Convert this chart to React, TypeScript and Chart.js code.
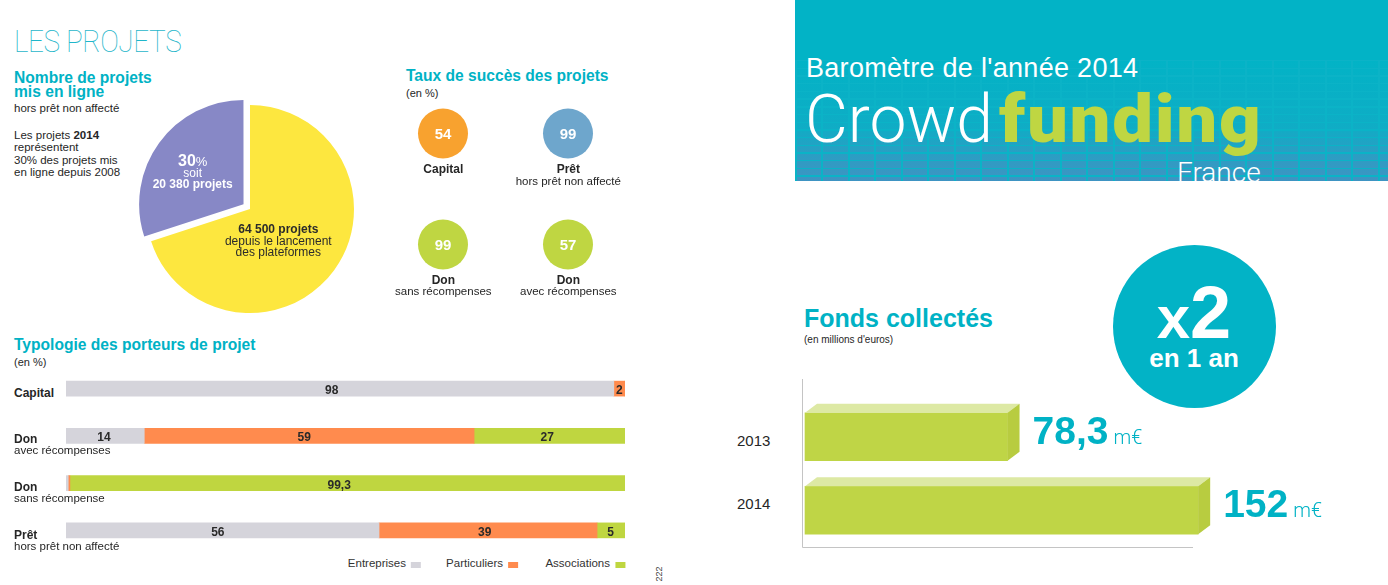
import React, { useEffect, useRef } from "react";
import { Chart, registerables } from "chart.js";
Chart.register(...registerables);

// ---------------- DATA ----------------
const pieLabels = ["Depuis le lancement des plateformes", "Projets 2014"];
const pieValues = [70, 30];

const successTitles = ["Capital", "Prêt", "Don", "Don"];
const successSubs = ["", "hors prêt non affecté", "sans récompenses", "avec récompenses"];
const successRates = [54, 99, 99, 57];

const typoTitles = ["Capital", "Don", "Don", "Prêt"];
const typoSubs = ["", "avec récompenses", "sans récompense", "hors prêt non affecté"];
const typoSeries = ["Entreprises", "Particuliers", "Associations"];
const entreprises = [98, 14, 0.4, 56];
const particuliers = [2, 59, 0.3, 39];
const associations = [0, 27, 99.3, 5];

const fondsYears = ["2013", "2014"];
const fondsValues = [78.3, 152];

// ---------------- STYLE ----------------
const FONT = '"Liberation Sans", Arial, Helvetica, sans-serif';
const ROBOTO = 'Roboto, "Liberation Sans", sans-serif';
const CYAN = "#00b2c5";
const DARK = "#262626";
const pieColors = ["#fde73f", "#8788c6"];
const successColors = ["#f8a22f", "#6ea6cc", "#bfd642", "#bfd642"];
const typoColors = ["#d5d4db", "#ff8b4e", "#bfd640"];
const fondsFront = "#bfd546";
const fondsTop = "#dde9a4";
const fondsSide = "#b8cc40";
const TITLE = 15.6;

const fmt = (v: number) => String(v).replace(".", ",");

function Txt(props: any) {
  const { x, y, size, weight = 400, color = DARK, align = "left", family = FONT, children, style } = props;
  const transform = align === "center" ? "translateX(-50%)" : align === "right" ? "translateX(-100%)" : undefined;
  return (
    <div
      style={{
        position: "absolute",
        left: x,
        top: y - 0.85 * size,
        fontSize: size,
        lineHeight: `${size}px`,
        fontWeight: weight,
        color,
        fontFamily: family,
        whiteSpace: "nowrap",
        transform,
        ...style,
      }}
    >
      {children}
    </div>
  );
}

function ChartCanvas(props: any) {
  const { left, top, width, height, make } = props;
  const ref = useRef<HTMLCanvasElement>(null);
  useEffect(() => {
    const chart = new Chart(ref.current as HTMLCanvasElement, make());
    return () => chart.destroy();
  }, []);
  return (
    <canvas
      ref={ref}
      width={width}
      height={height}
      style={{ position: "absolute", left, top, width, height }}
    />
  );
}

const noPlugins = { legend: { display: false }, tooltip: { enabled: false } };

function makePie(): any {
  return {
    type: "pie",
    data: {
      labels: pieLabels,
      datasets: [{ data: pieValues, backgroundColor: pieColors, borderWidth: 0, offset: [0, 32] }],
    },
    options: { responsive: false, animation: false, events: [], radius: 104, plugins: noPlugins },
  };
}

function makeSuccess(): any {
  const labelPlugin = {
    id: "succLabels",
    afterDatasetsDraw(chart: any) {
      const ctx = chart.ctx;
      const meta = chart.getDatasetMeta(0);
      ctx.save();
      ctx.font = `bold 15px ${FONT}`;
      ctx.fillStyle = "#ffffff";
      ctx.textAlign = "center";
      ctx.textBaseline = "alphabetic";
      meta.data.forEach((pt: any, i: number) => {
        ctx.fillText(String(successRates[i]), pt.x, pt.y + 5.4);
      });
      ctx.restore();
    },
  };
  return {
    type: "scatter",
    data: {
      datasets: [
        {
          data: successRates.map((_, i) => ({ x: i % 2, y: 1 - Math.floor(i / 2) })),
          backgroundColor: successColors,
          pointRadius: 25,
          pointHoverRadius: 25,
          borderWidth: 0,
        },
      ],
    },
    options: {
      responsive: false,
      animation: false,
      events: [],
      layout: { padding: 0, autoPadding: false },
      scales: {
        x: { type: "linear", display: false, min: -0.4, max: 1.6 },
        y: { type: "linear", display: false, min: -0.5, max: 1.5 },
      },
      plugins: noPlugins,
    },
    plugins: [labelPlugin],
  };
}

function makeTypo(): any {
  const series = [entreprises, particuliers, associations];
  const segLabels = {
    id: "segLabels",
    afterDatasetsDraw(chart: any) {
      const ctx = chart.ctx;
      ctx.save();
      ctx.font = `bold 12px ${FONT}`;
      ctx.fillStyle = "#2a2a2a";
      ctx.textAlign = "center";
      ctx.textBaseline = "alphabetic";
      chart.data.datasets.forEach((ds: any, d: number) => {
        const meta = chart.getDatasetMeta(d);
        meta.data.forEach((el: any, i: number) => {
          const v = ds.data[i];
          if (v < 1.5) return;
          const { x, y, base } = el.getProps(["x", "y", "base"], true);
          ctx.fillText(fmt(v), base + (x - base) * 0.485, y + 5.5);
        });
      });
      ctx.restore();
    },
  };
  return {
    type: "bar",
    data: {
      labels: typoTitles.map((t, i) => (t + " " + typoSubs[i]).trim()),
      datasets: series.map((d, i) => ({
        label: typoSeries[i],
        data: d,
        backgroundColor: typoColors[i],
        borderWidth: 0,
        barThickness: 15,
      })),
    },
    options: {
      indexAxis: "y",
      responsive: false,
      animation: false,
      events: [],
      layout: { padding: 0 },
      scales: {
        x: { stacked: true, display: false, min: 0, max: 100 },
        y: { stacked: true, display: false },
      },
      plugins: noPlugins,
    },
    plugins: [segLabels],
  };
}

function makeFonds(): any {
  const dx = 12;
  const dy = 9;
  const frame = {
    id: "frame",
    beforeDatasetsDraw(chart: any) {
      const { ctx, chartArea } = chart;
      ctx.save();
      ctx.strokeStyle = "#c4c4c4";
      ctx.lineWidth = 1;
      const lx = Math.round(chartArea.left - 3) + 0.5;
      const by = Math.round(chartArea.bottom) + 0.5;
      ctx.beginPath();
      ctx.moveTo(lx, 1);
      ctx.lineTo(lx, by);
      ctx.lineTo(chartArea.right, by);
      ctx.stroke();
      ctx.restore();
    },
    afterDatasetsDraw(chart: any) {
      const ctx = chart.ctx;
      const meta = chart.getDatasetMeta(0);
      const ds = chart.data.datasets[0];
      ctx.save();
      meta.data.forEach((el: any, i: number) => {
        const { x, y, base, height } = el.getProps(["x", "y", "base", "height"], true);
        const L = base;
        const R = x;
        const T = y - height / 2;
        const B = y + height / 2;
        ctx.fillStyle = fondsTop;
        ctx.beginPath();
        ctx.moveTo(L, T);
        ctx.lineTo(L + dx, T - dy);
        ctx.lineTo(R + dx, T - dy);
        ctx.lineTo(R, T);
        ctx.closePath();
        ctx.fill();
        ctx.fillStyle = fondsSide;
        ctx.beginPath();
        ctx.moveTo(R, T);
        ctx.lineTo(R + dx, T - dy);
        ctx.lineTo(R + dx, B - dy);
        ctx.lineTo(R, B);
        ctx.closePath();
        ctx.fill();
        // value label
        const txt = fmt(ds.data[i]);
        ctx.fillStyle = CYAN;
        ctx.textBaseline = "alphabetic";
        ctx.textAlign = "left";
        const tx = R + 25;
        const ty = y + 6.8;
        ctx.font = `bold 39px ${FONT}`;
        const w = ctx.measureText(txt).width;
        ctx.fillText(txt, tx, ty);
        ctx.font = `300 20px ${ROBOTO}`;
        ctx.fillText("m€", tx + w + 5, ty);
      });
      ctx.restore();
    },
  };
  return {
    type: "bar",
    data: {
      labels: fondsYears,
      datasets: [
        { data: fondsValues, backgroundColor: fondsFront, borderWidth: 0, barThickness: 48, clip: false },
      ],
    },
    options: {
      indexAxis: "y",
      responsive: false,
      animation: false,
      events: [],
      layout: { padding: { left: 12, right: 160, top: 22, bottom: 2 } },
      scales: {
        x: { display: false, min: 0, max: 150 },
        y: { display: false },
      },
      plugins: noPlugins,
    },
    plugins: [frame],
  };
}

const legendBoxRight = [421, 518, 625];
const typoTitleBase = [397, 443.3, 491, 539.3];
const typoSubBase = [0, 455, 502.7, 550.7];
const successCx = [443.3, 568.3, 443.3, 568.3];
const successTitleBase = [173.3, 173.3, 284, 284];
const successSubBase = [186, 186, 295.5, 295.5];
const fondsLabelBase = [446, 508.7];

export default function App() {
  const gridBg =
    "repeating-linear-gradient(90deg, #0bb3c7 0px, #0bb3c7 2px, transparent 2px, transparent 26.5px)," +
    "repeating-linear-gradient(180deg, #0bb3c7 0px, #0bb3c7 1.4px, transparent 1.4px, transparent 7.7px)," +
    "linear-gradient(180deg, rgba(66,146,194,0) 0%, rgba(66,146,194,0.2) 55%, rgba(66,146,194,0.6) 75%, rgba(66,146,194,0.95) 100%)";
  return (
    <div
      style={{
        position: "absolute",
        left: 0,
        top: 0,
        width: 1388,
        height: 585,
        overflow: "hidden",
        background: "#ffffff",
        fontFamily: FONT,
      }}
    >
      {/* ---------- LEFT: LES PROJETS ---------- */}
      <Txt
        x={14}
        y={51.7}
        size={32}
        weight={100}
        color="#1fb6ca"
        family={ROBOTO}
        style={{ letterSpacing: -0.5, transform: "scaleX(0.875)", transformOrigin: "left" }}
      >
        LES PROJETS
      </Txt>
      <Txt x={14} y={83.3} size={TITLE} weight={700} color={CYAN}>Nombre de projets</Txt>
      <Txt x={14} y={97.3} size={TITLE} weight={700} color={CYAN}>mis en ligne</Txt>
      <Txt x={14} y={112.7} size={11.5}>hors prêt non affecté</Txt>
      <Txt x={14} y={140} size={11.5}>Les projets <b>2014</b></Txt>
      <Txt x={14} y={152.2} size={11.5}>représentent</Txt>
      <Txt x={14} y={164.4} size={11.5}>30% des projets mis</Txt>
      <Txt x={14} y={176.6} size={11.5}>en ligne depuis 2008</Txt>

      <ChartCanvas left={130} top={89} width={240} height={240} make={makePie} />
      <Txt x={192.7} y={166.7} size={16} weight={700} color="#fff" align="center">
        30<span style={{ fontWeight: 400, fontSize: 13 }}>%</span>
      </Txt>
      <Txt x={192.7} y={177.5} size={12} color="#fff" align="center">soit</Txt>
      <Txt x={192.7} y={188.5} size={12} weight={700} color="#fff" align="center">20 380 projets</Txt>
      <Txt x={278.3} y={233.5} size={12} weight={700} color="#2b2b2b" align="center">64 500 projets</Txt>
      <Txt x={278.3} y={245} size={12} color="#2b2b2b" align="center">depuis le lancement</Txt>
      <Txt x={278.3} y={256.5} size={12} color="#2b2b2b" align="center">des plateformes</Txt>

      {/* ---------- Taux de succès ---------- */}
      <Txt x={406} y={81.7} size={TITLE} weight={700} color={CYAN}>Taux de succès des projets</Txt>
      <Txt x={406} y={97.3} size={11}>(en %)</Txt>
      <ChartCanvas left={393} top={78} width={250} height={222} make={makeSuccess} />
      {successTitles.map((t, i) => (
        <Txt key={"st" + i} x={successCx[i]} y={successTitleBase[i]} size={12} weight={700} align="center">
          {t}
        </Txt>
      ))}
      {successSubs.map((t, i) =>
        t ? (
          <Txt key={"ss" + i} x={successCx[i]} y={successSubBase[i]} size={11.5} align="center">
            {t}
          </Txt>
        ) : null
      )}

      {/* ---------- Typologie ---------- */}
      <Txt x={14} y={350.7} size={TITLE} weight={700} color={CYAN}>Typologie des porteurs de projet</Txt>
      <Txt x={14} y={366} size={11}>(en %)</Txt>
      <ChartCanvas left={66} top={365} width={559} height={189} make={makeTypo} />
      {typoTitles.map((t, i) => (
        <Txt key={"tt" + i} x={14} y={typoTitleBase[i]} size={12} weight={700}>{t}</Txt>
      ))}
      {typoSubs.map((t, i) =>
        t ? (
          <Txt key={"ts" + i} x={14} y={typoSubBase[i]} size={11.5}>{t}</Txt>
        ) : null
      )}
      {typoSeries.map((s, i) => (
        <div
          key={"lg" + i}
          style={{
            position: "absolute",
            left: legendBoxRight[i],
            top: 556,
            transform: "translateX(-100%)",
            display: "flex",
            alignItems: "center",
            height: 14,
            fontSize: 11.5,
            color: "#333",
            fontFamily: FONT,
            whiteSpace: "nowrap",
          }}
        >
          <span>{s}</span>
          <span style={{ display: "inline-block", width: 10, height: 6, marginLeft: 5, marginTop: 3, background: typoColors[i] }} />
        </div>
      ))}
      <div
        style={{
          position: "absolute",
          left: 651,
          top: 569,
          width: 16,
          height: 10,
          fontSize: 9,
          lineHeight: "10px",
          color: "#444",
          transform: "rotate(-90deg)",
          textAlign: "center",
        }}
      >
        222
      </div>

      {/* ---------- RIGHT: header ---------- */}
      <div
        style={{
          position: "absolute",
          left: 795,
          top: 0,
          width: 593,
          height: 181,
          overflow: "hidden",
          background: "#02b3c6",
        }}
      >
        <div style={{ position: "absolute", left: 0, top: 60, width: "100%", height: 121, backgroundImage: gridBg }} />
        <Txt x={11} y={77.5} size={27} color="#fff" style={{ letterSpacing: 0.3 }}>Baromètre de l'année 2014</Txt>
        <Txt x={10} y={143.3} size={66} color="#fff" family={ROBOTO} weight={300}>
          Crowd
          <span
            style={{
              display: "inline-block",
              fontWeight: 900,
              color: "#bfd642",
              letterSpacing: 1.5,
              marginLeft: 6,
              transform: "scaleX(1.1)",
              transformOrigin: "left",
            }}
          >
            funding
          </span>
        </Txt>
        <Txt x={382} y={183} size={28} color="#fff" family={ROBOTO} weight={300}>France</Txt>
      </div>

      {/* ---------- Fonds collectés ---------- */}
      <div
        style={{
          position: "absolute",
          left: 1194 - 81.5,
          top: 326.5 - 81.5,
          width: 163,
          height: 163,
          borderRadius: "50%",
          background: "#02b3c6",
        }}
      />
      <Txt x={1194} y={339.3} size={74} weight={700} color="#fff" align="center">
        <span style={{ fontSize: 60 }}>x</span>2
      </Txt>
      <Txt x={1194} y={367} size={26} weight={700} color="#fff" align="center">en 1 an</Txt>

      <Txt x={804} y={327.3} size={25} weight={700} color={CYAN}>Fonds collectés</Txt>
      <Txt x={804} y={343} size={10}>(en millions d'euros)</Txt>
      {fondsYears.map((yr, i) => (
        <Txt key={"fy" + i} x={737} y={fondsLabelBase[i]} size={15}>{yr}</Txt>
      ))}
      <ChartCanvas left={793} top={378} width={560} height={171} make={makeFonds} />
    </div>
  );
}
